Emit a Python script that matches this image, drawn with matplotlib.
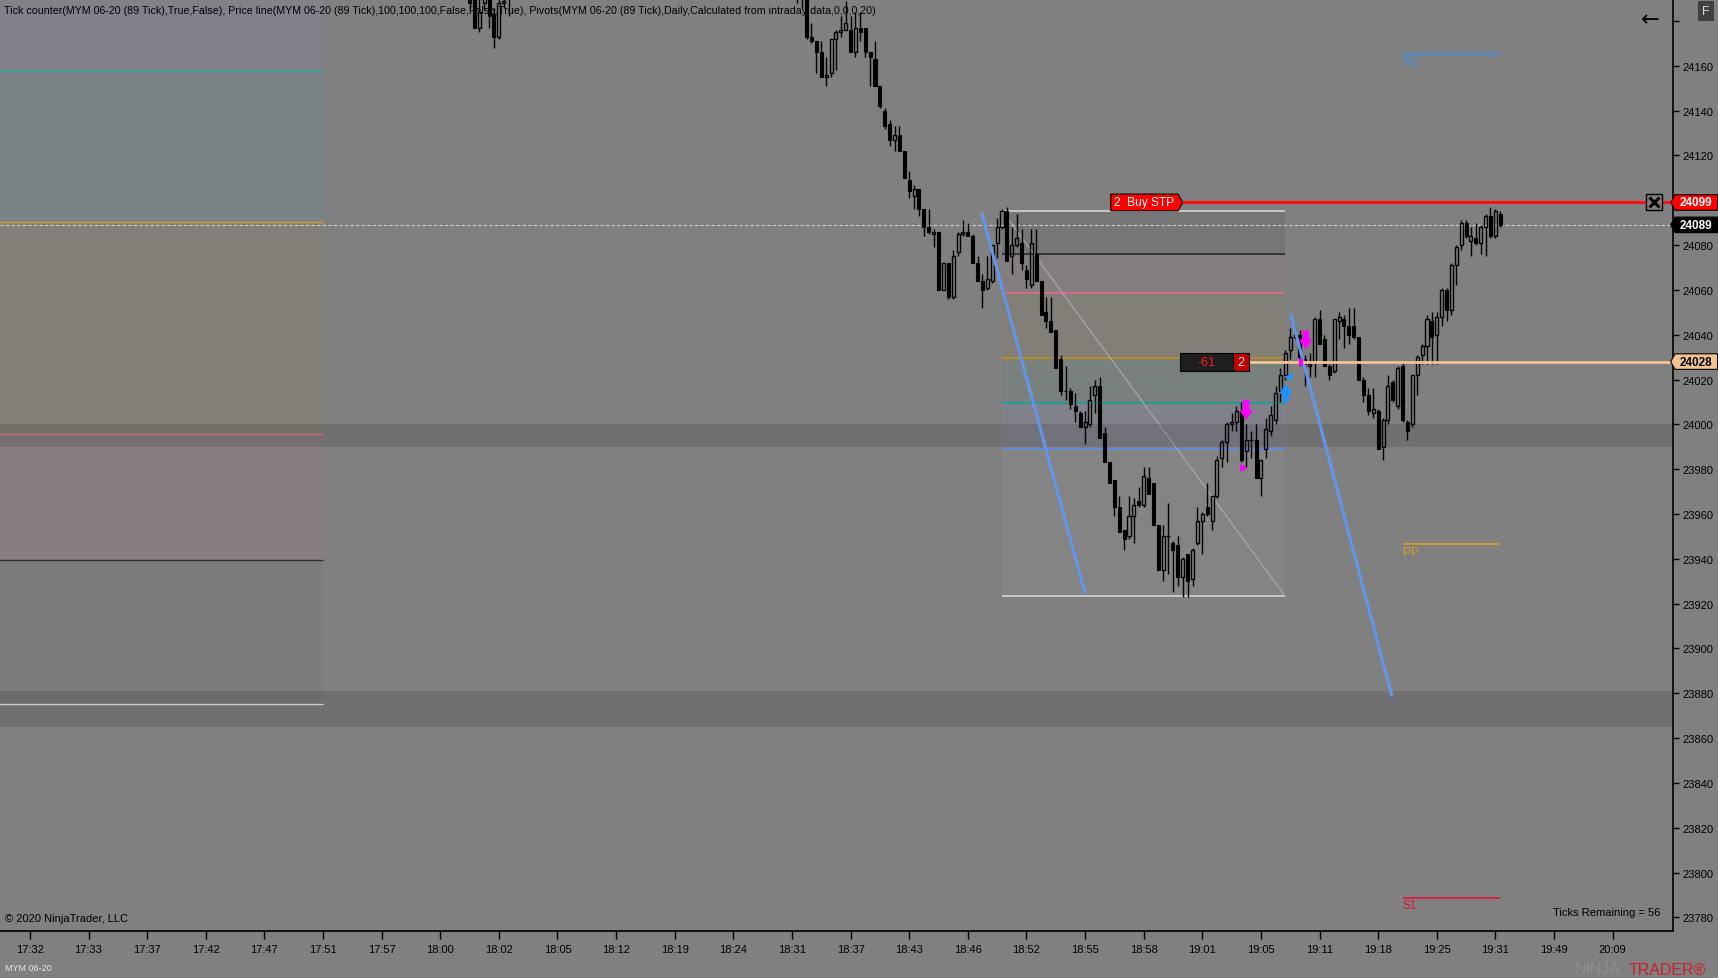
import numpy as np
import matplotlib.pyplot as plt
from matplotlib.path import Path

plt.rcParams['font.family'] = ['Liberation Sans', 'DejaVu Sans']

# ---------------- data ----------------
time_labels = ["17:32", "17:33", "17:37", "17:42", "17:47", "17:51", "17:57", "18:00",
               "18:02", "18:05", "18:12", "18:19", "18:24", "18:31", "18:37", "18:43",
               "18:46", "18:52", "18:55", "18:58", "19:01", "19:05", "19:11", "19:18",
               "19:25", "19:31", "19:49", "20:09"]
bars_per_label = 12
price_ticks = list(range(23780, 24181, 20))
hidden_ticks = [24100, 24180]   # covered by the order tag / cut at the top

# first cluster of 89-tick bars still visible around 18:02 (bars 90..98)
start_a = 90
open_a = [24195, 24192, 24177, 24188, 24193, 24183, 24173, 24188, 24195]
high_a = [24198, 24195, 24190, 24196, 24196, 24186, 24192, 24194, 24198]
low_a = [24186, 24177, 24175, 24185, 24177, 24168, 24172, 24186, 24182]
close_a = [24188, 24177, 24184, 24192, 24182, 24173, 24188, 24189, 24192]

# bars 157..301
start_b = 157
open_b = [24195, 24193, 24192, 24173, 24171, 24166, 24155, 24157, 24172, 24175,
          24176, 24176, 24166, 24177, 24177, 24166, 24163, 24151, 24140, 24134,
          24127, 24129, 24122, 24109, 24102, 24105, 24096, 24088, 24085, 24086,
          24060, 24072, 24057, 24077, 24085, 24086, 24084, 24072, 24064, 24061,
          24064, 24081, 24088, 24095, 24075, 24080, 24081, 24069, 24062, 24076,
          24064, 24050, 24046, 24042, 24029, 24015, 24015, 24008, 24005, 23999,
          24000, 24013, 24017, 23996, 23983, 23975, 23963, 23953, 23950, 23959,
          23966, 23964, 23976, 23974, 23955, 23935, 23950, 23947, 23946, 23932,
          23942, 23931, 23947, 23957, 23963, 23957, 23968, 23985, 23992, 24000,
          24001, 24006, 23988, 23993, 23993, 23976, 23989, 23997, 24002, 24015,
          24022, 24033, 24039, 24040, 24029, 24026, 24028, 24047, 24038, 24026,
          24024, 24046, 24047, 24044, 24044, 24039, 24020, 24013, 24005, 24006,
          23990, 24002, 24019, 24008, 24026, 24001, 24000, 24022, 24031, 24035,
          24046, 24040, 24048, 24060, 24051, 24071, 24080, 24090, 24082, 24083,
          24081, 24088, 24093, 24084, 24094]
high_b = [24198, 24196, 24195, 24179, 24171, 24171, 24164, 24172, 24176, 24182,
          24189, 24182, 24184, 24184, 24177, 24166, 24171, 24151, 24141, 24136,
          24133, 24133, 24122, 24113, 24107, 24105, 24096, 24096, 24087, 24086,
          24072, 24072, 24078, 24086, 24091, 24090, 24085, 24075, 24067, 24075,
          24080, 24092, 24096, 24097, 24088, 24094, 24087, 24071, 24087, 24087,
          24064, 24057, 24057, 24042, 24031, 24026, 24016, 24014, 24006, 24006,
          24017, 24020, 24021, 23999, 23983, 23975, 23968, 23953, 23968, 23967,
          23972, 23981, 23981, 23974, 23955, 23955, 23965, 23948, 23950, 23941,
          23942, 23945, 23963, 23961, 23974, 23968, 23986, 23993, 24001, 24005,
          24008, 24010, 24000, 23997, 24000, 23984, 24003, 24008, 24017, 24025,
          24033, 24043, 24044, 24042, 24031, 24032, 24048, 24051, 24040, 24027,
          24047, 24050, 24049, 24052, 24052, 24039, 24021, 24016, 24016, 24007,
          24003, 24022, 24020, 24026, 24028, 24002, 24022, 24031, 24036, 24049,
          24050, 24050, 24061, 24061, 24072, 24080, 24091, 24091, 24088, 24090,
          24089, 24094, 24097, 24096, 24095]
low_b = [24188, 24186, 24172, 24170, 24157, 24155, 24151, 24155, 24158, 24173,
         24176, 24166, 24164, 24171, 24164, 24151, 24151, 24141, 24132, 24124,
         24122, 24122, 24110, 24101, 24096, 24093, 24084, 24085, 24079, 24060,
         24060, 24056, 24056, 24075, 24084, 24084, 24072, 24064, 24052, 24060,
         24063, 24074, 24087, 24073, 24067, 24079, 24069, 24061, 24061, 24064,
         24049, 24043, 24041, 24025, 24013, 24011, 24007, 24001, 23999, 23991,
         23999, 24005, 23994, 23983, 23974, 23959, 23952, 23944, 23949, 23947,
         23963, 23963, 23969, 23955, 23935, 23930, 23933, 23925, 23928, 23923,
         23923, 23928, 23946, 23942, 23959, 23953, 23967, 23981, 23983, 23997,
         23997, 23983, 23981, 23985, 23976, 23968, 23985, 23995, 24000, 24010,
         24020, 24029, 24038, 24026, 24017, 24021, 24021, 24036, 24026, 24020,
         24023, 24038, 24034, 24036, 24038, 24020, 24010, 24004, 24003, 23989,
         23984, 24000, 24010, 24007, 24001, 23993, 23999, 24013, 24027, 24027,
         24027, 24027, 24044, 24046, 24049, 24062, 24078, 24083, 24075, 24080,
         24076, 24075, 24083, 24083, 24088]
close_b = [24192, 24190, 24173, 24171, 24166, 24155, 24156, 24172, 24175, 24176,
           24179, 24166, 24177, 24175, 24166, 24164, 24151, 24142, 24133, 24127,
           24129, 24122, 24110, 24104, 24105, 24096, 24088, 24086, 24086, 24060,
           24072, 24057, 24075, 24085, 24086, 24084, 24072, 24064, 24060, 24065,
           24080, 24088, 24095, 24073, 24080, 24083, 24072, 24065, 24081, 24064,
           24049, 24046, 24041, 24025, 24015, 24015, 24009, 24006, 23999, 24001,
           24011, 24017, 23994, 23983, 23974, 23963, 23952, 23949, 23959, 23964,
           23964, 23977, 23969, 23955, 23935, 23950, 23950, 23944, 23932, 23940,
           23930, 23944, 23957, 23960, 23960, 23968, 23984, 23992, 24000, 24001,
           24006, 23984, 23993, 23993, 23976, 23984, 23998, 24004, 24014, 24022,
           24032, 24039, 24040, 24030, 24027, 24027, 24047, 24036, 24026, 24022,
           24047, 24048, 24044, 24040, 24039, 24020, 24013, 24006, 24007, 23989,
           24002, 24017, 24011, 24025, 24002, 23997, 24022, 24030, 24035, 24047,
           24039, 24048, 24060, 24051, 24071, 24079, 24090, 24084, 24084, 24081,
           24088, 24093, 24084, 24095, 24089]

# drawing objects
zone_bands = [(23990, 24000), (23865, 23881)]
left_box_end = 60
left_box_levels = [24157.5, 24090.5, 23995.7, 23939.4, 23875.4]
left_box_line_colors = ['#1fb0a8', '#d09a20', '#f07090', '#303030', '#e8e8e8']
left_box_fill_colors = ['#818189', '#7a8385', '#838079', '#867e81', '#7c7c7c']

fib_start, fib_end = 199, 257
fib_levels = [24095.4, 24075.9, 24058.8, 24029.5, 24009.4, 23989.0, 23923.2]
fib_line_colors = ['#d4d4d4', '#2a2a2a', '#e46a8e', '#c8900a', '#10a0a0', '#5a90e8', '#d4d4d4']
fib_fill_colors = ['#767676', '#857e80', '#827f78', '#79817f', '#81818a', '#848484']

trend_lines = [((194.8, 24094.6), (216.0, 23924.6)),
               ((258.1, 24049.2), (278.8, 23878.8))]

pivot_start, pivot_end = 281, 301
pivots = {'R1': 24165.3, 'PP': 23946.7, 'S1': 23788.8}
pivot_colors = {'R1': '#3a8ee6', 'PP': '#d4a020', 'S1': '#e0143c'}

stop_price, stop_qty, stop_start = 24099, 2, 221
last_price = 24089
avg_price, position_pnl, position_qty, pos_start = 24028, -61, 2, 235.5
close_button_bar = 332.5

sell_arrows = [(249, 24011, 24002), (261.2, 24042, 24033.5)]
buy_arrows = [(257.1, 24010, 24018)]

BG = '#808080'
W, H = 1718, 979

fig = plt.figure(figsize=(W / 100, H / 100), dpi=100, facecolor=BG)
ax = fig.add_axes([0, 47 / H, 1673 / W, 932 / H])
ax.set_facecolor(BG)
ax.set_xlim(-6.12, 336.36)
ax.set_ylim(23773.9, 24189.8)

for s in ('top', 'left'):
    ax.spines[s].set_visible(False)
for s in ('right', 'bottom'):
    ax.spines[s].set_color('black')
    ax.spines[s].set_linewidth(1.2)

ax.yaxis.set_ticks_position('right')
ax.set_yticks(price_ticks)
ax.set_yticklabels(['' if p in hidden_ticks else str(p) for p in price_ticks])
ax.set_xticks(np.arange(len(time_labels)) * bars_per_label)
ax.set_xticklabels(time_labels)
ax.tick_params(axis='y', direction='out', length=4.5, width=1, pad=2.5, labelsize=8, colors='black')
ax.tick_params(axis='x', direction='out', length=5.5, width=1, pad=4, labelsize=8, colors='black')

# left range box
edges = [24189.8] + left_box_levels
for i, col in enumerate(left_box_fill_colors):
    ax.fill_between([-7, left_box_end], edges[i + 1], edges[i], color=col, lw=0, zorder=1)
ax.hlines(left_box_levels, -7, left_box_end, colors=left_box_line_colors, lw=1, zorder=2)

# fibonacci box
for i, col in enumerate(fib_fill_colors):
    ax.fill_between([fib_start, fib_end], fib_levels[i + 1], fib_levels[i], color=col, lw=0, zorder=1)
ax.hlines(fib_levels, fib_start, fib_end, colors=fib_line_colors, lw=1.2, zorder=2)
ax.plot([fib_start, fib_end], [fib_levels[0], fib_levels[-1]], color='#a8a8a8', lw=0.9, zorder=2)

# darker zones across the chart
for lo, hi in zone_bands:
    ax.axhspan(lo, hi, color='black', alpha=0.12, lw=0, zorder=2.5)


def draw_candles(start, o, h, l, c):
    o, h, l, c = (np.asarray(v, dtype=float) for v in (o, h, l, c))
    x = start + np.arange(len(o))
    top, bot = np.maximum(o, c), np.minimum(o, c)
    ax.vlines(x, top, h, color='black', lw=1, zorder=5)
    ax.vlines(x, l, bot, color='black', lw=1, zorder=5)
    dn, up, flat = c < o, c > o, c == o
    ax.bar(x[dn], (o - c)[dn], bottom=c[dn], width=0.62, color='black',
           edgecolor='black', lw=0.8, zorder=5)
    ax.bar(x[up], (c - o)[up], bottom=o[up], width=0.62, facecolor='none',
           edgecolor='black', lw=1, zorder=5)
    ax.hlines(c[flat], x[flat] - 0.35, x[flat] + 0.35, color='black', lw=1, zorder=5)


draw_candles(start_a, open_a, high_a, low_a, close_a)
draw_candles(start_b, open_b, high_b, low_b, close_b)

# trend lines
for (x0, y0), (x1, y1) in trend_lines:
    ax.plot([x0, x1], [y0, y1], color='#6495ed', lw=2.2, zorder=6, solid_capstyle='butt')

# pivots
for name, lvl in pivots.items():
    ax.hlines(lvl, pivot_start, pivot_end, color=pivot_colors[name], lw=1.2, zorder=4)
    ax.text(pivot_start, lvl - 0.8, name, color=pivot_colors[name], fontsize=8.5,
            ha='left', va='top', zorder=4)

# price line, stop order, position
ax.axhline(last_price, color='#d0d0d0', lw=0.8, ls=(0, (3, 2)), zorder=4)
ax.hlines(stop_price, stop_start + 14, 336.4, color='#ff1010', lw=2.2, zorder=6)
ax.hlines(avg_price, pos_start + 14, 336.4, color='#f3c48e', lw=2, zorder=6)


def make_box(px, py, tip_left=0.0, tip_right=0.0):
    """box path with separate x/y padding and optional pointed ends"""
    def box(x0, y0, width, height, mutation_size):
        pxx, pyy = px * mutation_size, py * mutation_size
        xa, ya = x0 - pxx, y0 - pyy
        xb, yb = x0 + width + pxx, y0 + height + pyy
        ym = (ya + yb) / 2
        hgt = yb - ya
        verts = [(xa, ya), (xb, ya)]
        if tip_right:
            verts.append((xb + tip_right * hgt, ym))
        verts += [(xb, yb), (xa, yb)]
        if tip_left:
            verts.append((xa - tip_left * hgt, ym))
        verts.append((xa, ya))
        return Path(verts, closed=True)
    return box


ax.text(stop_start + 1.0, stop_price, f"{stop_qty}  Buy STP", color='white', fontsize=8.6,
        ha='left', va='center', zorder=8,
        bbox=dict(boxstyle=make_box(0.3, 0.2, tip_right=0.28), fc='#ff0000', ec='black', lw=0.8))

ax.text(pos_start + 5.4, avg_price, str(position_pnl), color='#ff2020', fontsize=9,
        ha='center', va='center', zorder=8,
        bbox=dict(boxstyle=make_box(1.45, 0.24), fc='#1e1e1e', ec='black', lw=0.8))
ax.text(pos_start + 12.4, avg_price, str(position_qty), color='#e8e8e8', fontsize=9,
        ha='center', va='center', zorder=9,
        bbox=dict(boxstyle=make_box(0.38, 0.24), fc='#c00000', ec='black', lw=0.8))

# close-order button
ax.plot([close_button_bar], [stop_price], marker='s', ms=11, mfc='#808080',
        mec='black', mew=1, zorder=9, clip_on=False)
ax.plot([close_button_bar], [stop_price], marker='x', ms=7, mec='black',
        mew=2.2, zorder=10, clip_on=False)

# execution markers
arrow_style = 'simple,head_width=1.0,head_length=0.7,tail_width=0.45'
for xb, tail, tip in sell_arrows:
    ax.annotate('', xy=(xb, tip), xytext=(xb, tail), zorder=7,
                arrowprops=dict(arrowstyle=arrow_style, color='#ff00ff', lw=0, shrinkA=0, shrinkB=0))
for xb, tail, tip in buy_arrows:
    ax.annotate('', xy=(xb, tip), xytext=(xb, tail), zorder=7,
                arrowprops=dict(arrowstyle=arrow_style, color='#1e90ff', lw=0, shrinkA=0, shrinkB=0))
ax.plot([248.5], [23980.5], marker='>', ms=6, color='#ff00ff', mew=0, zorder=7)
ax.plot([257.6], [24021], marker='<', ms=6, color='#1e90ff', mew=0, zorder=7)
ax.vlines([260.3], 24026, 24029, color='#ff00ff', lw=3, zorder=7)

# right-axis price tags
ytr = ax.get_yaxis_transform()
for price, fc, tc in [(stop_price, '#ff0000', 'white'), (last_price, '#000000', 'white'),
                      (avg_price, '#f3c48e', 'black')]:
    ax.text(1.0 + 7 / 1673, price, str(price), transform=ytr, color=tc, fontsize=8.5,
            fontweight='bold', ha='left', va='center', zorder=12, clip_on=False,
            bbox=dict(boxstyle=make_box(0.42, 0.15, tip_left=0.28), fc=fc, ec='black', lw=0.8))

# header and footer texts
fig.text(4 / W, 1 - 11 / H,
         "Tick counter(MYM 06-20 (89 Tick),True,False), Price line(MYM 06-20 (89 Tick),100,100,100,"
         "False,False,True), Pivots(MYM 06-20 (89 Tick),Daily,Calculated from intraday data,0,0,0,20)",
         fontsize=7.68, color='black', ha='left', va='center', zorder=20)
fig.text(5 / W, 1 - 919 / H, "\u00a9 2020 NinjaTrader, LLC", fontsize=8, color='black',
         ha='left', va='center')
fig.text(1660 / W, 1 - 913 / H, "Ticks Remaining = 56", fontsize=8, color='black',
         ha='right', va='center')
fig.text(5 / W, 1 - 969 / H, "MYM 06-20", fontsize=6.5, color='#e8e8e8', ha='left', va='center')
fig.text(1575 / W, 1 - 970 / H, "NINJA", fontsize=11.5, color='#8e8e8e', ha='left', va='center')
fig.text(1629 / W, 1 - 970 / H, "TRADER\u00ae", fontsize=11.5, color='#c8202a', ha='left', va='center')
fig.text(1650 / W, 1 - 20 / H, "\u2190", fontsize=16, color='black', ha='center', va='center',
         family=['DejaVu Sans'])
fig.text(1706 / W, 1 - 12 / H, "F", fontsize=9, color='#d8d8d8', ha='center', va='center',
         bbox=dict(boxstyle='square,pad=0.3', fc='#404040', ec='none'))

fig.savefig('out.png', dpi=100, facecolor=BG)
